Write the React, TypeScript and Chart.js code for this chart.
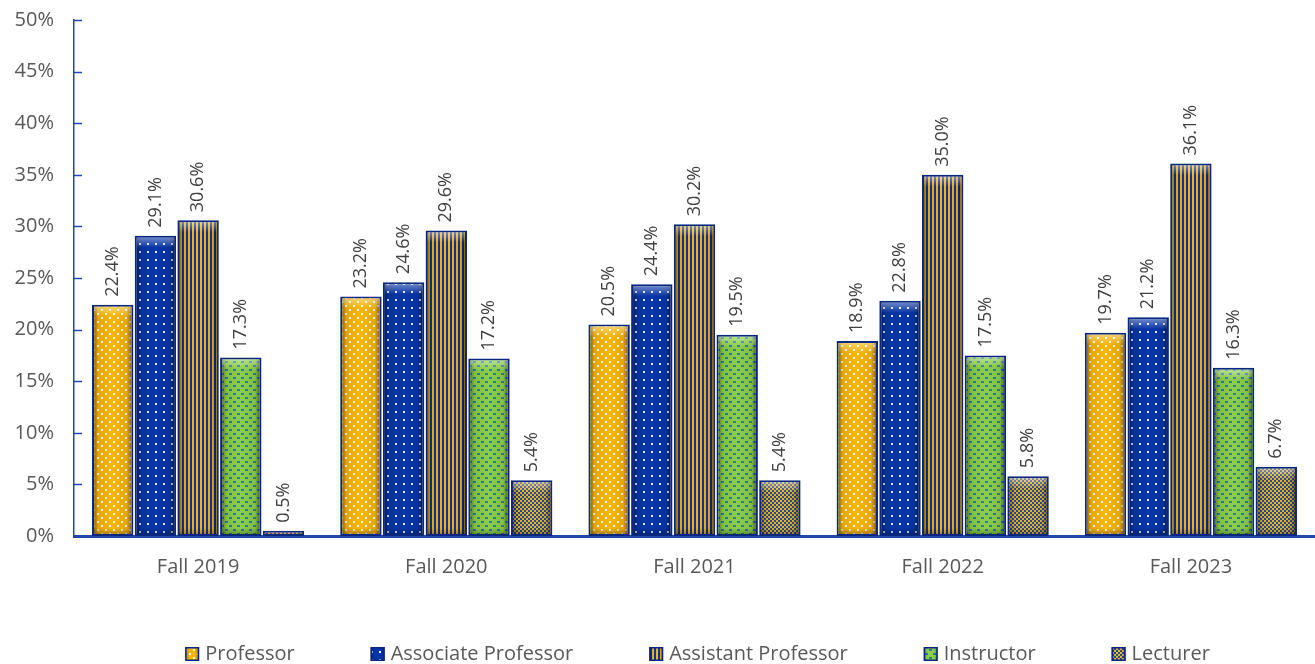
import { useEffect, useRef } from 'react';
import { Chart, registerables } from 'chart.js';

Chart.register(...registerables);

const categories = ['Fall 2019', 'Fall 2020', 'Fall 2021', 'Fall 2022', 'Fall 2023'];
const seriesNames = ['Professor', 'Associate Professor', 'Assistant Professor', 'Instructor', 'Lecturer'];
const professor = [22.4, 23.2, 20.5, 18.9, 19.7];
const associateProfessor = [29.1, 24.6, 24.4, 22.8, 21.2];
const assistantProfessor = [30.6, 29.6, 30.2, 35.0, 36.1];
const instructor = [17.3, 17.2, 19.5, 17.5, 16.3];
const lecturer = [0.5, 5.4, 5.4, 5.8, 6.7];
const yTickValues = [0, 5, 10, 15, 20, 25, 30, 35, 40, 45, 50];

const GOLD = '#F6B60A';
const BLUE = '#0835A8';
const GREEN = '#8DCF4C';
const DASH = '#2F76C2';
const NAVY = '#0A2780';
const AXIS = '#2148A8';
const TEXT = '#595959';
const FONT = '"Open Sans", "Noto Sans", sans-serif';

type TileDraw = (g: CanvasRenderingContext2D) => void;

function makePattern(ctx: CanvasRenderingContext2D, size: number, draw: TileDraw): CanvasPattern | string {
  const c = document.createElement('canvas');
  c.width = size;
  c.height = size;
  const g = c.getContext('2d') as CanvasRenderingContext2D;
  draw(g);
  return ctx.createPattern(c, 'repeat') || '#000';
}

function buildPatterns(ctx: CanvasRenderingContext2D) {
  const prof = makePattern(ctx, 8, (g) => {
    g.fillStyle = GOLD;
    g.fillRect(0, 0, 8, 8);
    g.fillStyle = 'rgba(255,255,255,0.9)';
    g.fillRect(1, 1, 2, 2);
    g.fillRect(5, 5, 2, 2);
  });
  const assoc = makePattern(ctx, 8, (g) => {
    g.fillStyle = BLUE;
    g.fillRect(0, 0, 8, 8);
    g.fillStyle = 'rgba(255,255,255,0.9)';
    g.fillRect(3, 3, 2, 2);
  });
  const asst = makePattern(ctx, 4, (g) => {
    g.fillStyle = BLUE;
    g.fillRect(0, 0, 4, 4);
    g.fillStyle = GOLD;
    g.fillRect(0, 0, 2, 4);
  });
  const instr = makePattern(ctx, 8, (g) => {
    g.fillStyle = GREEN;
    g.fillRect(0, 0, 8, 8);
    g.fillStyle = DASH;
    g.fillRect(1, 1, 3, 2);
    g.fillRect(5, 5, 3, 2);
  });
  const lect = makePattern(ctx, 4, (g) => {
    g.fillStyle = '#1D4DB0';
    g.fillRect(0, 0, 4, 4);
    g.fillStyle = GOLD;
    g.fillRect(0, 0, 2, 2);
    g.fillRect(2, 2, 2, 2);
  });
  return [prof, assoc, asst, instr, lect];
}

const bevelPlugin = {
  id: 'bevel',
  afterDatasetsDraw(chart: any) {
    const ctx: CanvasRenderingContext2D = chart.ctx;
    chart.data.datasets.forEach((_ds: any, di: number) => {
      const meta = chart.getDatasetMeta(di);
      meta.data.forEach((bar: any) => {
        const { x, y, base, width } = bar.getProps(['x', 'y', 'base', 'width'], true);
        const left = x - width / 2 + 2;
        const w = width - 4;
        const top = y + 2;
        const h = base - y - 4;
        if (h <= 0) return;
        ctx.save();
        const gh = ctx.createLinearGradient(left, 0, left + w, 0);
        gh.addColorStop(0, 'rgba(0,0,0,0.4)');
        gh.addColorStop(0.12, 'rgba(0,0,0,0.08)');
        gh.addColorStop(0.5, 'rgba(0,0,0,0)');
        gh.addColorStop(0.88, 'rgba(0,0,0,0.08)');
        gh.addColorStop(1, 'rgba(0,0,0,0.45)');
        ctx.fillStyle = gh;
        ctx.fillRect(left, top, w, h);
        const th = Math.min(10, h);
        const gv = ctx.createLinearGradient(0, top, 0, top + th);
        gv.addColorStop(0, 'rgba(255,255,255,0.4)');
        gv.addColorStop(1, 'rgba(255,255,255,0)');
        ctx.fillStyle = gv;
        ctx.fillRect(left, top, w, th);
        const bh = Math.min(6, h);
        const gb = ctx.createLinearGradient(0, top + h - bh, 0, top + h);
        gb.addColorStop(0, 'rgba(0,0,0,0)');
        gb.addColorStop(1, 'rgba(0,0,0,0.25)');
        ctx.fillStyle = gb;
        ctx.fillRect(left, top + h - bh, w, bh);
        ctx.restore();
      });
    });
  },
};

const labelPlugin = {
  id: 'valueLabels',
  afterDatasetsDraw(chart: any) {
    const ctx: CanvasRenderingContext2D = chart.ctx;
    ctx.save();
    ctx.font = `18px ${FONT}`;
    ctx.fillStyle = '#404040';
    ctx.textAlign = 'left';
    ctx.textBaseline = 'middle';
    chart.data.datasets.forEach((ds: any, di: number) => {
      const meta = chart.getDatasetMeta(di);
      meta.data.forEach((bar: any, i: number) => {
        const { x, y } = bar.getProps(['x', 'y'], true);
        ctx.save();
        ctx.translate(x, y - 8);
        ctx.rotate(-Math.PI / 2);
        ctx.fillText(ds.data[i].toFixed(1) + '%', 0, 0);
        ctx.restore();
      });
    });
    ctx.restore();
  },
};

const innerTicksPlugin = {
  id: 'innerTicks',
  afterDraw(chart: any) {
    const ctx: CanvasRenderingContext2D = chart.ctx;
    const ys = chart.scales.y;
    const left = chart.chartArea.left;
    ctx.save();
    ctx.strokeStyle = AXIS;
    ctx.lineWidth = 1.5;
    yTickValues.forEach((v) => {
      const py = Math.round(ys.getPixelForValue(v)) + 0.5;
      ctx.beginPath();
      ctx.moveTo(left, py);
      ctx.lineTo(left + 8, py);
      ctx.stroke();
    });
    ctx.restore();
  },
};

const customLegendPlugin = {
  id: 'customLegend',
  afterDraw(chart: any) {
    const ctx: CanvasRenderingContext2D = chart.ctx;
    const ds = chart.data.datasets;
    const box = 14;
    const textGap = 6;
    const itemGap = 76;
    const cy = 654;
    ctx.save();
    ctx.font = `20px ${FONT}`;
    const widths = ds.map((d: any) => ctx.measureText(d.label).width);
    const total =
      widths.reduce((a: number, b: number) => a + b, 0) + ds.length * (box + textGap) + (ds.length - 1) * itemGap;
    let x = (chart.width - total) / 2 + 40;
    ds.forEach((d: any, i: number) => {
      ctx.fillStyle = d.backgroundColor;
      ctx.fillRect(x, cy - box / 2, box, box);
      const g = ctx.createLinearGradient(x, 0, x + box, 0);
      g.addColorStop(0, 'rgba(0,0,0,0.3)');
      g.addColorStop(0.3, 'rgba(0,0,0,0)');
      g.addColorStop(0.7, 'rgba(0,0,0,0)');
      g.addColorStop(1, 'rgba(0,0,0,0.3)');
      ctx.fillStyle = g;
      ctx.fillRect(x, cy - box / 2, box, box);
      ctx.strokeStyle = NAVY;
      ctx.lineWidth = 1.5;
      ctx.strokeRect(x + 0.75, cy - box / 2 + 0.75, box - 1.5, box - 1.5);
      ctx.fillStyle = TEXT;
      ctx.textAlign = 'left';
      ctx.textBaseline = 'middle';
      ctx.fillText(d.label, x + box + textGap, cy);
      x += box + textGap + widths[i] + itemGap;
    });
    ctx.restore();
  },
};

export default function App() {
  const canvasRef = useRef<HTMLCanvasElement | null>(null);

  useEffect(() => {
    document.body.style.margin = '0';
    const canvas = canvasRef.current;
    if (!canvas) return;
    const ctx = canvas.getContext('2d') as CanvasRenderingContext2D;
    const patterns = buildPatterns(ctx);
    const series = [professor, associateProfessor, assistantProfessor, instructor, lecturer];

    const chart = new Chart(canvas, {
      type: 'bar',
      data: {
        labels: categories,
        datasets: series.map((values, i) => ({
          label: seriesNames[i],
          data: values,
          backgroundColor: patterns[i] as any,
          borderColor: NAVY,
          borderWidth: 2,
          borderSkipped: false,
          categoryPercentage: 0.86,
          barPercentage: 0.97,
        })),
      },
      options: {
        animation: false,
        responsive: false,
        maintainAspectRatio: false,
        layout: { padding: { top: 20, right: 0, left: 0, bottom: 0 } },
        plugins: {
          tooltip: { enabled: false },
          legend: { display: false },
        },
        scales: {
          x: {
            grid: { display: false, drawTicks: false },
            border: { display: true, color: AXIS, width: 3 },
            ticks: { color: TEXT, font: { family: FONT, size: 20 }, padding: 19 },
            afterFit: (scale: any) => {
              scale.height = 128;
              scale.paddingLeft = 0;
              scale.paddingRight = 0;
            },
          },
          y: {
            min: 0,
            max: 50,
            afterBuildTicks: (scale: any) => {
              scale.ticks = yTickValues.map((v) => ({ value: v }));
            },
            grid: { display: false, drawTicks: false },
            border: { display: true, color: AXIS, width: 1.5 },
            ticks: {
              color: TEXT,
              font: { family: FONT, size: 20 },
              padding: 20,
              callback: (v: any) => v + '%',
            },
            afterFit: (scale: any) => {
              scale.width = 74;
              scale.paddingTop = 0;
              scale.paddingBottom = 0;
            },
          },
        },
      },
      plugins: [bevelPlugin, labelPlugin, innerTicksPlugin, customLegendPlugin],
    });

    return () => {
      chart.destroy();
    };
  }, []);

  return (
    <div style={{ width: 1315, height: 664 }}>
      <canvas ref={canvasRef} width={1315} height={664} style={{ display: 'block' }} />
    </div>
  );
}
